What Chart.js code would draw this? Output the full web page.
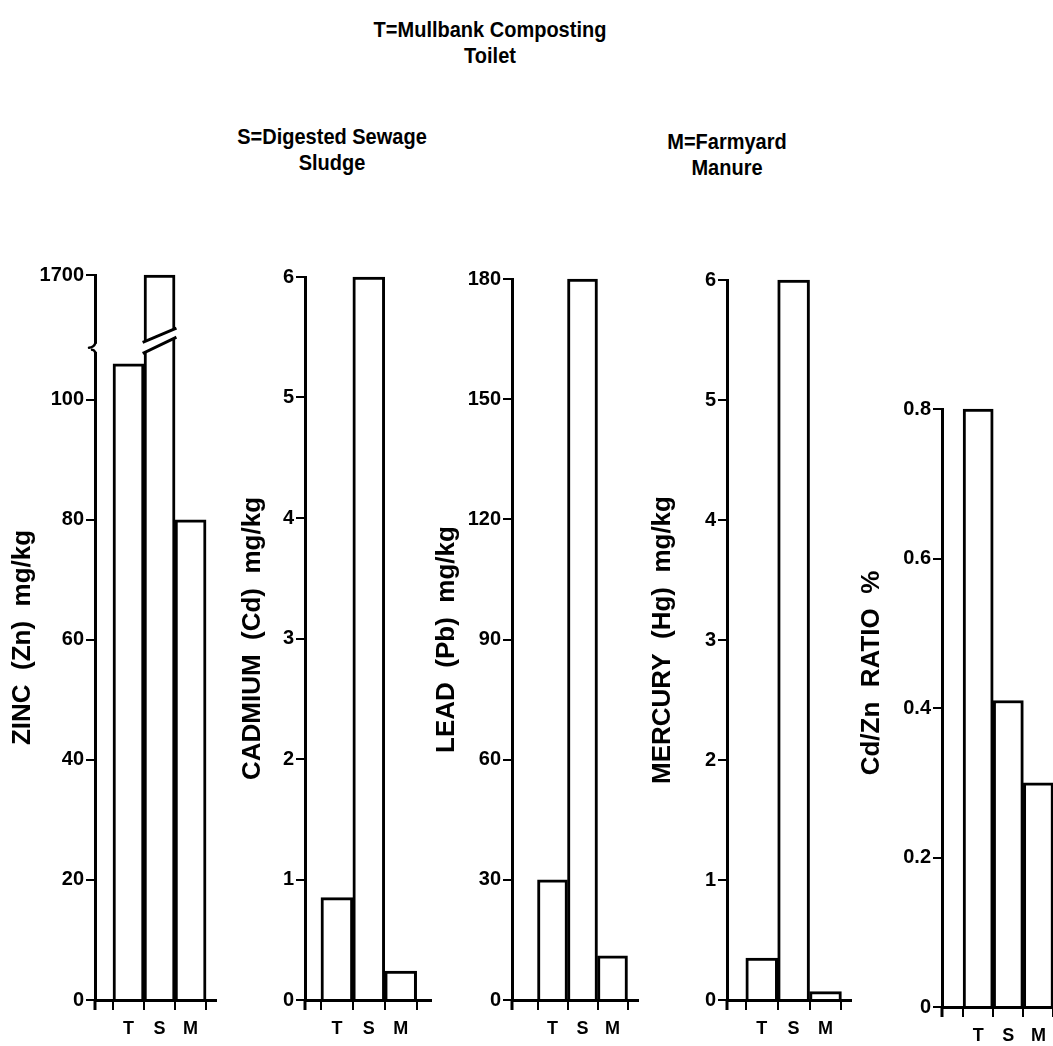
<!DOCTYPE html>
<html>
<head>
<meta charset="utf-8">
<script src="https://cdn.jsdelivr.net/npm/chart.js@4"></script>
<style>
html,body{margin:0;padding:0;background:#fff;overflow:hidden;width:1053px;height:1046px;position:relative}
.hdr{position:absolute;font-family:'Liberation Sans',Arial,sans-serif;font-weight:bold;font-size:20px;line-height:23px;text-align:center;color:#000;transform:translateX(-50%) scaleY(1.12);transform-origin:50% 0;white-space:nowrap}
</style>
</head>
<body>
<div class="hdr" style="left:490px;top:17px">T=Mullbank Composting<br>Toilet</div>
<div class="hdr" style="left:332px;top:124px">S=Digested Sewage<br>Sludge</div>
<div class="hdr" style="left:727px;top:129px">M=Farmyard<br>Manure</div>
<script>
// ---------------- data ----------------
const categories = ['T', 'S', 'M'];

const zincValues      = [106, 1700, 80];
const cadmiumValues   = [0.85, 6, 0.24];
const leadValues      = [30, 180, 11];
const mercuryValues   = [0.35, 6, 0.07];
const cdZnRatioValues = [0.8, 0.41, 0.30];

const zincTicks      = [0, 20, 40, 60, 80, 100, 1700];
const zincTickLabels = ['0', '20', '40', '60', '80', '100', '1700'];
const cadmiumTicks      = [0, 1, 2, 3, 4, 5, 6];
const cadmiumTickLabels = ['0', '1', '2', '3', '4', '5', '6'];
const leadTicks      = [0, 30, 60, 90, 120, 150, 180];
const leadTickLabels = ['0', '30', '60', '90', '120', '150', '180'];
const mercuryTicks      = [0, 1, 2, 3, 4, 5, 6];
const mercuryTickLabels = ['0', '1', '2', '3', '4', '5', '6'];
const ratioTicks      = [0, 0.2, 0.4, 0.6, 0.8];
const ratioTickLabels = ['0', '0.2', '0.4', '0.6', '0.8'];

const axisTitles = {
  zinc: 'ZINC  (Zn)  mg/kg',
  cadmium: 'CADMIUM  (Cd)  mg/kg',
  lead: 'LEAD  (Pb)  mg/kg',
  mercury: 'MERCURY  (Hg)  mg/kg',
  ratio: 'Cd/Zn  RATIO  %'
};

// ---------------- layout (positions / sizes only) ----------------
const Y_W = 95, PAD_TOP = 20, X_H = 46, PAD_RIGHT = 10;
const TITLE_SIZE = 26;
const layouts = {
  zinc:    {axisX: 95,  plotTop: 275, plotBottom: 1000, barW: 31, xMin: -0.08, xMax: 3.82, titleCenter: 23,  titleShift: 0},
  cadmium: {axisX: 305, plotTop: 277, plotBottom: 1000, barW: 32, xMin: 0.0,   xMax: 3.95, titleCenter: 253, titleShift: 0},
  lead:    {axisX: 512, plotTop: 279, plotBottom: 1000, barW: 30, xMin: -0.35, xMax: 3.85, titleCenter: 447, titleShift: 0},
  mercury: {axisX: 727, plotTop: 280, plotBottom: 1000, barW: 32, xMin: -0.09, xMax: 3.8,  titleCenter: 663, titleShift: 0},
  ratio:   {axisX: 942, plotTop: 409, plotBottom: 1007, barW: 30, xMin: -0.2,  xMax: 3.55, titleCenter: 872, titleShift: 35}
};

// ---------------- broken-axis scale for zinc ----------------
class BrokenLinearScale extends Chart.LinearScale {
  getPixelForValue(value) {
    const b = this.options.brk;
    let v = value;
    if (b && value !== null && value > b.upperFrom) {
      v = b.topMapped - (b.topValue - value) * b.k;
    }
    return super.getPixelForValue(v);
  }
}
BrokenLinearScale.id = 'brokenLinear';
BrokenLinearScale.defaults = Chart.LinearScale.defaults;
Chart.register(BrokenLinearScale);

// y axis crosses slightly below the x axis
const axisExtendPlugin = {
  id: 'axisExtend',
  afterDraw(chart) {
    const {ctx, chartArea} = chart;
    ctx.save();
    ctx.strokeStyle = '#000';
    ctx.lineWidth = 3;
    ctx.beginPath();
    ctx.moveTo(chartArea.left, chartArea.bottom);
    ctx.lineTo(chartArea.left, chartArea.bottom + 10);
    ctx.stroke();
    ctx.restore();
  }
};

// shift a y-axis title along the axis (the library always centres it)
const titleShiftPlugin = {
  id: 'titleShift',
  beforeDraw(chart, args, o) {
    chart.$titleShift = o && o.shift ? o.shift : 0;
  }
};

const zincBreakPlugin = {
  id: 'zincBreak',
  afterDraw(chart) {
    const ctx = chart.ctx, y = chart.scales.y, area = chart.chartArea;
    const bar = chart.getDatasetMeta(0).data[1];
    const c = y.getPixelForValue(109);
    const l = bar.x - bar.width / 2, r = bar.x + bar.width / 2;
    ctx.save();
    ctx.fillStyle = '#fff';
    ctx.beginPath();
    ctx.moveTo(l - 3, c + 7.5);
    ctx.lineTo(r + 3, c - 8.5);
    ctx.lineTo(r + 3, c - 17.5);
    ctx.lineTo(l - 3, c - 3.5);
    ctx.closePath();
    ctx.fill();
    ctx.strokeStyle = '#000';
    ctx.lineWidth = 3;
    ctx.lineCap = 'square';
    ctx.beginPath();
    ctx.moveTo(l, c + 7); ctx.lineTo(r, c - 8);
    ctx.moveTo(l, c - 4); ctx.lineTo(r, c - 17);
    ctx.stroke();
    const x0 = area.left;
    ctx.fillStyle = '#fff';
    ctx.fillRect(x0 - 3, c - 2, 6, 8);
    ctx.lineWidth = 2.5;
    ctx.lineCap = 'round';
    ctx.beginPath();
    ctx.moveTo(x0, c - 2); ctx.quadraticCurveTo(x0 - 1, c + 1, x0 - 6, c + 2);
    ctx.moveTo(x0, c + 6); ctx.quadraticCurveTo(x0 - 1, c + 4, x0 - 3, c + 4);
    ctx.stroke();
    ctx.restore();
  }
};

const FONT = "'Liberation Sans', Arial, sans-serif";

function buildChart(key, values, tickValues, tickLabels, opts) {
  opts = opts || {};
  const L = layouts[key];
  const chartW = (L.xMax - L.xMin) * L.barW;
  const left = L.axisX - Y_W;
  const top = L.plotTop - PAD_TOP;
  const width = Math.round(Y_W + chartW + PAD_RIGHT);
  const height = Math.round(L.plotBottom + X_H - top);
  const cv = document.createElement('canvas');
  cv.width = width; cv.height = height;
  cv.style.cssText = 'position:absolute;left:' + left + 'px;top:' + top + 'px;width:' + width + 'px;height:' + height + 'px';
  document.body.appendChild(cv);
  const titleLH = TITLE_SIZE * 1.2;
  const titlePad = Y_W - titleLH / 2 - (L.axisX - L.titleCenter);

  const yScale = {
    type: opts.yType || 'linear',
    min: tickValues[0],
    max: opts.yMax !== undefined ? opts.yMax : tickValues[tickValues.length - 1],
    bounds: 'data',
    afterBuildTicks(scale) { scale.ticks = tickValues.map(v => ({value: v})); },
    afterFit(scale) { scale.width = Y_W; },
    ticks: {
      callback: (v, i) => tickLabels[i],
      color: '#000',
      padding: 2,
      font: {family: FONT, size: 20, weight: 'bold'}
    },
    grid: {drawOnChartArea: false, drawTicks: true, tickLength: 9, color: '#000', lineWidth: 2},
    border: {display: true, color: '#000', width: 3},
    title: {
      display: false,
      text: axisTitles[key],
      color: '#000',
      font: {family: FONT, size: TITLE_SIZE, weight: 'bold', lineHeight: 1.2},
      padding: {top: titlePad, bottom: 0}
    }
  };
  if (opts.brk) yScale.brk = opts.brk;

  // axis title drawn rotated, centred on the axis (optionally shifted)
  const axisTitlePlugin = {
    id: 'axisTitle',
    afterDraw(chart) {
      const s = chart.scales.y, ctx = chart.ctx;
      const t = s.options.title;
      ctx.save();
      ctx.translate(L.titleCenter - left, (s.top + s.bottom) / 2 - L.titleShift);
      ctx.rotate(-Math.PI / 2);
      ctx.font = 'bold ' + TITLE_SIZE + 'px ' + FONT;
      ctx.fillStyle = '#000';
      ctx.textAlign = 'center';
      ctx.textBaseline = 'middle';
      ctx.fillText(t.text, 0, 0);
      ctx.restore();
    }
  };

  return new Chart(cv, {
    type: 'bar',
    data: {
      datasets: [{
        data: values.map((v, i) => ({x: i + 1, y: v})),
        backgroundColor: '#fff',
        borderColor: '#000',
        borderWidth: 3,
        barPercentage: 1,
        categoryPercentage: 1,
        clip: false
      }]
    },
    options: {
      responsive: false,
      animation: false,
      devicePixelRatio: 1,
      events: [],
      layout: {padding: {top: PAD_TOP, right: PAD_RIGHT, bottom: 0, left: 0}},
      plugins: {legend: {display: false}, tooltip: {enabled: false}},
      scales: {
        x: {
          type: 'linear',
          offset: false,
          min: L.xMin,
          max: L.xMax,
          afterBuildTicks(scale) { scale.ticks = categories.map((c, i) => ({value: i + 1})); },
          afterFit(scale) { scale.height = X_H; },
          ticks: {
            callback: (v, i) => categories[i],
            color: '#000',
            padding: 8,
            maxRotation: 0,
            autoSkip: false,
            font: {family: FONT, size: 18, weight: 'bold'}
          },
          grid: {offset: true, drawOnChartArea: false, drawTicks: true, tickLength: 10, color: '#000', lineWidth: 2},
          border: {display: true, color: '#000', width: 3}
        },
        y: yScale
      }
    },
    plugins: [axisExtendPlugin, axisTitlePlugin].concat(opts.plugins || [])
  });
}

buildChart('zinc', zincValues, zincTicks, zincTickLabels, {
  yType: 'brokenLinear',
  yMax: 120.8,
  brk: {upperFrom: 500, topValue: 1700, topMapped: 120.8, k: 0.01},
  plugins: [zincBreakPlugin]
});
buildChart('cadmium', cadmiumValues, cadmiumTicks, cadmiumTickLabels);
buildChart('lead', leadValues, leadTicks, leadTickLabels);
buildChart('mercury', mercuryValues, mercuryTicks, mercuryTickLabels);
buildChart('ratio', cdZnRatioValues, ratioTicks, ratioTickLabels);
</script>
</body>
</html>
